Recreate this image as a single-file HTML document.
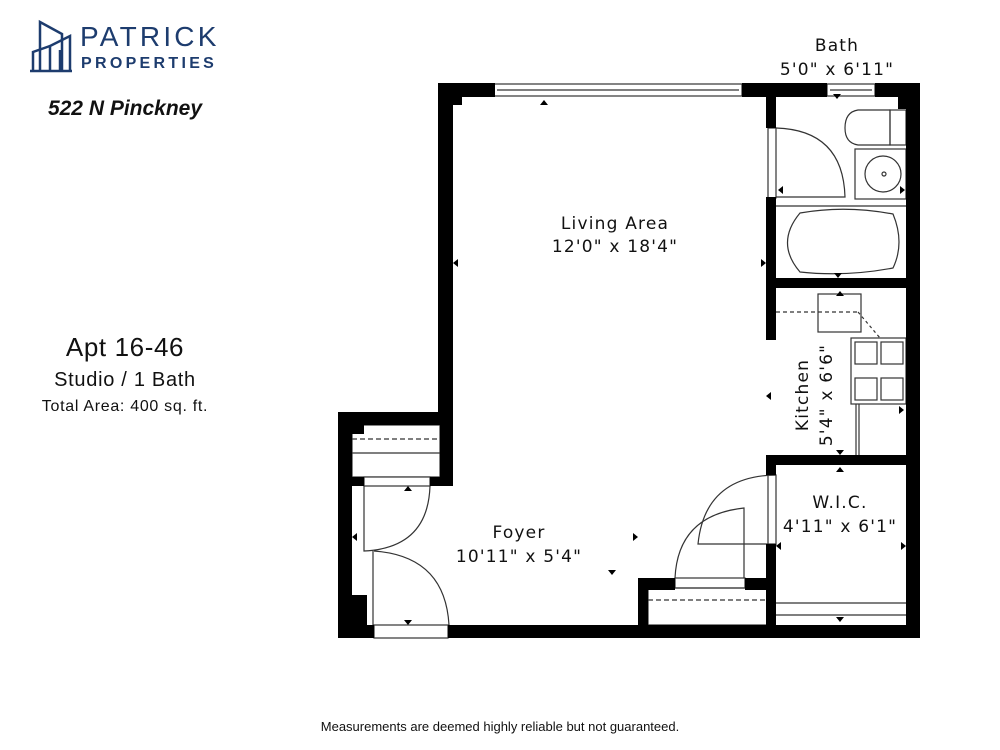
<!DOCTYPE html>
<html><head><meta charset="utf-8"><style>
html,body{margin:0;padding:0;background:#fff;}
svg{display:block}
.t{font-family:"DejaVu Sans",sans-serif;font-size:17px;letter-spacing:1.2px;fill:#111;text-anchor:middle}
.l{font-family:"Liberation Sans",sans-serif;fill:#111;text-anchor:middle}
</style></head><body>
<svg width="1000" height="750" viewBox="0 0 1000 750" xmlns="http://www.w3.org/2000/svg">
<!-- logo -->
<g fill="none" stroke="#1d3c6e" stroke-width="2.5">
<path d="M40 70 V22 L62 34 V70"/>
<path d="M50 70 V46 L70 36 V70"/>
<path d="M60 70 V50"/>
<path d="M33 70 V52 L50 46"/>
<path d="M30 71 H72"/>
</g>
<text x="80" y="46" font-family="Liberation Sans,sans-serif" font-size="28" fill="#1d3c6e" letter-spacing="3.2">PATRICK</text>
<text x="81" y="68" font-family="Liberation Sans,sans-serif" font-size="16" font-weight="bold" fill="#1d3c6e" letter-spacing="3.3">PROPERTIES</text>
<text x="125" y="115" class="l" font-size="21" font-weight="bold" font-style="italic">522 N Pinckney</text>
<text x="125" y="356" class="l" font-size="26" letter-spacing="0.6">Apt 16-46</text>
<text x="125" y="386" class="l" font-size="20" letter-spacing="0.7">Studio / 1 Bath</text>
<text x="125" y="411" class="l" font-size="16" letter-spacing="0.7">Total Area: 400 sq. ft.</text>
<text x="500" y="731" class="l" font-size="13">Measurements are deemed highly reliable but not guaranteed.</text>

<!-- fixtures -->
<g fill="none" stroke="#333" stroke-width="1.2">
<rect x="494" y="84" width="248" height="12" fill="#fff"/>
<line x1="497" y1="90" x2="739" y2="90"/>
<rect x="827" y="84" width="48" height="12" fill="#fff"/>
<line x1="830" y1="90" x2="872" y2="90"/>
<rect x="768" y="128" width="8" height="70" fill="#fff"/>
<path d="M776 128 Q843 130 845 197 H776"/>
<path d="M890 110 H858 Q845 112 845 128 Q845 143 858 145 H890 Z"/>
<rect x="890" y="110" width="16" height="35"/>
<rect x="855" y="149" width="51" height="50"/>
<circle cx="883" cy="174" r="18"/>
<circle cx="884" cy="174" r="2"/>
<line x1="776" y1="206" x2="906" y2="206"/>
<path d="M800 213 Q845 205 893 214 Q905 243 893 268 Q845 277 800 272 Q775 243 800 213Z"/>
<rect x="818" y="294" width="43" height="38"/>
<line x1="776" y1="312" x2="858" y2="312" stroke-dasharray="4,3"/>
<line x1="858" y1="312" x2="880" y2="338" stroke-dasharray="3,3"/>
<rect x="851" y="338" width="55" height="66"/>
<rect x="855" y="342" width="22" height="22"/><rect x="881" y="342" width="22" height="22"/>
<rect x="855" y="378" width="22" height="22"/><rect x="881" y="378" width="22" height="22"/>
<line x1="856" y1="404" x2="856" y2="456"/><line x1="859" y1="404" x2="859" y2="456"/>
<rect x="768" y="475" width="8" height="70" fill="#fff"/>
<path d="M776 475 Q705 476 698 544 H776"/>
<rect x="675" y="578" width="70" height="10" fill="#fff"/>
<path d="M675 578 Q678 515 744 508 V578"/>
<rect x="648" y="588" width="120" height="37"/>
<line x1="648" y1="600" x2="766" y2="600" stroke-dasharray="5,3"/>
<line x1="776" y1="603" x2="906" y2="603"/><line x1="776" y1="615" x2="906" y2="615"/>
<rect x="352" y="425" width="88" height="52"/>
<line x1="352" y1="439" x2="440" y2="439" stroke-dasharray="5,3"/>
<line x1="352" y1="453" x2="440" y2="453"/>
<rect x="364" y="477" width="66" height="9" fill="#fff"/>
<path d="M364 486 V551 Q428 548 430 486"/>
<path d="M373 551 V625"/>
<path d="M374 551 Q445 556 449 625"/>
<rect x="374" y="625" width="74" height="13" fill="#fff"/>
</g>

<!-- walls -->
<g fill="#000">
<rect x="438" y="83" width="57" height="14"/>
<rect x="438" y="83" width="24" height="22"/>
<rect x="742" y="83" width="85" height="14"/>
<rect x="875" y="83" width="45" height="14"/>
<rect x="898" y="83" width="22" height="26"/>
<rect x="438" y="83" width="15" height="342"/>
<rect x="338" y="412" width="115" height="13"/>
<rect x="338" y="412" width="14" height="226"/>
<rect x="338" y="412" width="26" height="22"/>
<rect x="352" y="477" width="12" height="9"/>
<rect x="430" y="477" width="23" height="9"/>
<rect x="440" y="425" width="13" height="61"/>
<rect x="352" y="595" width="15" height="30"/>
<rect x="338" y="625" width="36" height="13"/>
<rect x="448" y="625" width="472" height="13"/>
<rect x="906" y="83" width="14" height="555"/>
<rect x="766" y="97" width="10" height="31"/>
<rect x="766" y="197" width="10" height="143"/>
<rect x="766" y="278" width="140" height="10"/>
<rect x="766" y="455" width="140" height="10"/>
<rect x="766" y="455" width="10" height="20"/>
<rect x="766" y="544" width="10" height="81"/>
<rect x="638" y="578" width="37" height="12"/>
<rect x="745" y="578" width="23" height="12"/>
<rect x="638" y="578" width="10" height="50"/>
</g>
<g fill="#000">
<path d="M544 100 l-4 5 h8z"/><path d="M453 263 l5 -4 v8z"/><path d="M766 263 l-5 -4 v8z"/>
<path d="M837 99 l-4 -5 h8z"/><path d="M838 278 l-4 -5 h8z"/><path d="M840 291 l-4 5 h8z"/>
<path d="M778 190 l5 -4 v8z"/><path d="M905 190 l-5 -4 v8z"/>
<path d="M766 396 l5 -4 v8z"/><path d="M904 410 l-5 -4 v8z"/>
<path d="M840 455 l-4 -5 h8z"/><path d="M840 467 l-4 5 h8z"/>
<path d="M776 546 l5 -4 v8z"/><path d="M906 546 l-5 -4 v8z"/><path d="M840 622 l-4 -5 h8z"/>
<path d="M408 486 l-4 5 h8z"/><path d="M408 625 l-4 -5 h8z"/><path d="M352 537 l5 -4 v8z"/>
<path d="M638 537 l-5 -4 v8z"/><path d="M612 575 l-4 -5 h8z"/>
</g>

<text x="615" y="229" class="t">Living Area</text>
<text x="615" y="252" class="t">12'0" x 18'4"</text>
<text x="837" y="51" class="t">Bath</text>
<text x="837" y="75" class="t">5'0" x 6'11"</text>
<text x="840" y="508" class="t">W.I.C.</text>
<text x="840" y="532" class="t">4'11" x 6'1"</text>
<text x="519" y="538" class="t">Foyer</text>
<text x="519" y="562" class="t">10'11" x 5'4"</text>
<g transform="translate(808,395) rotate(-90)"><text x="0" y="0" class="t">Kitchen</text><text x="0" y="24" class="t">5'4" x 6'6"</text></g>
</svg>
</body></html>
